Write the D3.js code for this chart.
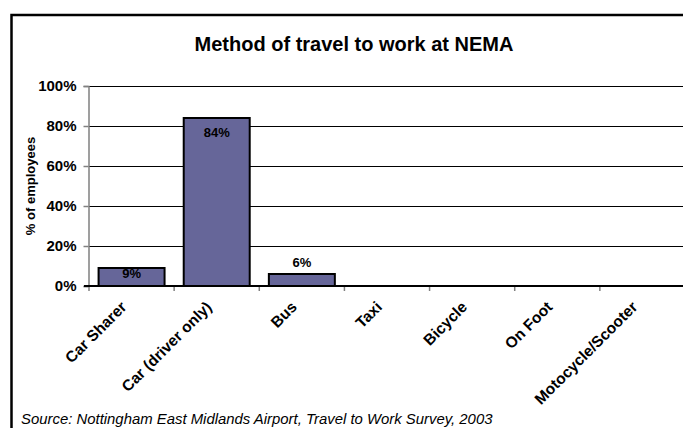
<!DOCTYPE html>
<html>
<head>
<meta charset="utf-8">
<script src="https://cdn.jsdelivr.net/npm/d3@7"></script>
<style>
  html, body { margin: 0; padding: 0; background: #fff; }
  svg { display: block; font-family: "Liberation Sans", Arial, sans-serif; }
</style>
</head>
<body>
<svg id="chart" width="683" height="428"></svg>
<script>
const categories = ["Car Sharer", "Car (driver only)", "Bus", "Taxi", "Bicycle", "On Foot", "Motocycle/Scooter"];
const values = [9, 84, 6, 0, 0, 0, 0];
const valueLabels = ["9%", "84%", "6%", null, null, null, null];
const labelPlacement = ["edge", "inside", "outside", null, null, null, null];
const yTicks = [0, 20, 40, 60, 80, 100];
const titleText = "Method of travel to work at NEMA";
const yTitle = "% of employees";
const sourceText = "Source: Nottingham East Midlands Airport, Travel to Work Survey, 2003";

const svg = d3.select("#chart");
const W = 683, H = 428;
const plot = { left: 89, right: 685, top: 86, bottom: 286 };

// outer chart border (extends beyond the visible frame)
svg.append("rect")
  .attr("x", 11.5).attr("y", 15)
  .attr("width", 700).attr("height", 500)
  .attr("fill", "none").attr("stroke", "#000").attr("stroke-width", 2.5);

svg.append("text")
  .attr("x", 354).attr("y", 51)
  .attr("text-anchor", "middle")
  .attr("font-size", 20).attr("font-weight", "bold")
  .text(titleText);

const x = d3.scaleBand().domain(categories).range([plot.left, plot.right]).paddingInner(0.225).paddingOuter(0.1125);
const y = d3.scaleLinear().domain([0, 100]).range([plot.bottom, plot.top]);

// gridlines
svg.append("g").selectAll("line").data(yTicks.filter(d => d > 0)).join("line")
  .attr("x1", plot.left).attr("x2", W)
  .attr("y1", d => y(d) + 0.5).attr("y2", d => y(d) + 0.5)
  .attr("stroke", "#000").attr("stroke-width", 1);

// y axis
const yAxis = svg.append("g").attr("transform", `translate(${plot.left - 0.5},0)`)
  .call(d3.axisLeft(y).tickValues(yTicks).tickFormat(d => d + "%").tickSize(5).tickPadding(7));
yAxis.select(".domain").attr("stroke", "#808080").attr("stroke-width", 1.5);
yAxis.selectAll(".tick line").attr("stroke", "#808080").attr("stroke-width", 1.5);
yAxis.selectAll(".tick text").attr("font-size", 15).attr("font-weight", "bold")
  .attr("font-family", "Liberation Sans, Arial, sans-serif").attr("fill", "#000");

// bars
svg.append("g").selectAll("rect").data(categories).join("rect")
  .attr("x", d => x(d))
  .attr("y", (d, i) => y(values[i]))
  .attr("width", x.bandwidth())
  .attr("height", (d, i) => y(0) - y(values[i]))
  .attr("fill", (d, i) => values[i] > 0 ? "#666699" : "none")
  .attr("stroke", (d, i) => values[i] > 0 ? "#000" : "none")
  .attr("stroke-width", 2);

// x axis
const tickPositions = d3.range(categories.length + 1).map(i => plot.left + i * (plot.right - plot.left) / categories.length);
svg.append("g").selectAll("line").data(tickPositions).join("line")
  .attr("x1", d => d).attr("x2", d => d)
  .attr("y1", plot.bottom).attr("y2", plot.bottom + 5)
  .attr("stroke", "#808080").attr("stroke-width", 1.5);
svg.append("line")
  .attr("x1", plot.left - 5).attr("x2", W)
  .attr("y1", plot.bottom).attr("y2", plot.bottom)
  .attr("stroke", "#000").attr("stroke-width", 2);

// value labels
const labelOffset = { edge: 10, inside: 19, outside: -7 };
svg.append("g").selectAll("text").data(categories.filter((d, i) => valueLabels[i])).join("text")
  .attr("x", d => x(d) + x.bandwidth() / 2)
  .attr("y", d => {
    const i = categories.indexOf(d);
    return y(values[i]) + labelOffset[labelPlacement[i]];
  })
  .attr("text-anchor", "middle")
  .attr("font-size", 13).attr("font-weight", "bold")
  .text(d => valueLabels[categories.indexOf(d)]);

// category labels
svg.append("g").selectAll("text").data(categories).join("text")
  .attr("transform", d => `translate(${x(d) + x.bandwidth() / 2 - 4},${plot.bottom + 22}) rotate(-45)`)
  .attr("text-anchor", "end")
  .attr("font-size", 15.5).attr("font-weight", "bold")
  .text(d => d);

// y title
svg.append("text")
  .attr("transform", `translate(35,${(plot.top + plot.bottom) / 2}) rotate(-90)`)
  .attr("text-anchor", "middle")
  .attr("font-size", 13).attr("font-weight", "bold")
  .text(yTitle);

// source
svg.append("text")
  .attr("x", 21).attr("y", 424)
  .attr("font-size", 14.9).attr("font-style", "italic")
  .text(sourceText);
</script>
</body>
</html>
